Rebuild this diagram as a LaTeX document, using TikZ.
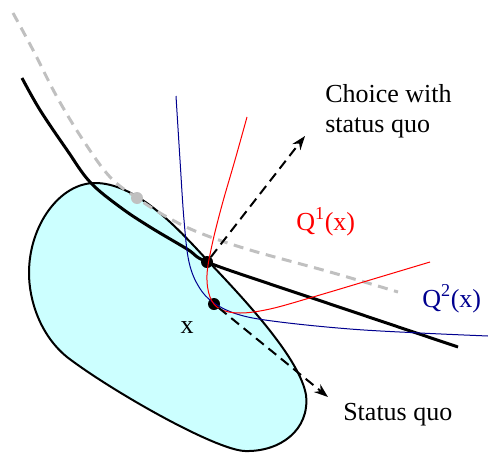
\documentclass[tikz,border=0pt]{standalone}
\usepackage{fontspec}
\setmainfont{Liberation Serif}
\usetikzlibrary{arrows.meta}
\definecolor{cblack}{HTML}{000000}
\definecolor{cgrey}{HTML}{C0C0C0}
\definecolor{ccyan}{HTML}{CCFFFF}
\definecolor{cred}{HTML}{FF0000}
\definecolor{cnavy}{HTML}{00008F}
\tikzset{
  every picture/.style={line join=round},
  budget/.style={draw=cblack, fill=ccyan, line width=1.5pt},
  indiff/.style={draw=cblack, line width=2.25pt},
  oldindiff/.style={draw=cgrey, line width=2.25pt, dash pattern=on 7.5pt off 5pt},
  quad/.style={draw=#1, line width=0.75pt},
  dot/.style={circle, fill=#1, inner sep=0pt, minimum size=9pt},
  dot/.default=cblack,
  arrow/.style={-{Stealth[length=10.5pt, width=7.5pt]}, draw=cblack, line width=1.5pt, dash pattern=on 7.5pt off 4.5pt},
  label/.style={font=\fontsize{19.5}{22.5}\selectfont, inner sep=0pt, align=left},
}
\begin{document}
\begin{tikzpicture}[x=0.75pt, y=-0.75pt]
  \useasboundingbox (0,0) rectangle (488,453);
  % feasible set
  \draw[budget] (95,183) .. controls (135,183) and (175,225) .. (207,260)
    .. controls (250,305) and (300,360) .. (306,395)
    .. controls (310,430) and (280,452) .. (245,451)
    .. controls (215,450) and (110,390) .. (67,357)
    .. controls (40,335) and (29,300) .. (29,273)
    .. controls (29,225) and (60,183) .. cycle;
  % indifference curves
  \draw[oldindiff] plot[smooth, tension=0.6] coordinates {(13,13) (33,50) (57,97) (83,140) (110,177) (137,198) (167,217) (200,233) (250,250) (330,272) (398,292)};
  \draw[indiff] plot[smooth, tension=0.6] coordinates {(22,78) (40,110) (67,150) (90,182) (120,207) (150,227) (187,249) (207,262) (270,284) (330,304) (458,347)};
  \node[label] (x) at (187,333) [anchor=base] {x};
  % chosen points
  \node[dot=cgrey] (old) at (137,198) {};
  \node[dot] (choice) at (207,262) {};
  \node[dot] (sq) at (214,304) {};
  \draw[quad=cnavy] plot[smooth, tension=0.6] coordinates {(176,96) (180,160) (184,220) (189,262) (199,287) (214,303) (240,315) (280,322) (350,329) (420,333) (488,336)};
  \draw[quad=cred] plot[smooth, tension=0.6] coordinates {(247,117) (235,160) (222,205) (212,245) (207,275) (210,297) (220,309) (240,313) (270,309) (313,297) (370,280) (430,262)};
  % directions
  \coordinate (choicetip) at (305,136);
  \coordinate (sqtip) at (328,397);
  \draw[arrow] (choice) -- (choicetip);
  \draw[arrow] (sq) -- (sqtip);
  % labels
  \node[label, anchor=base west] (choicetext) at (325,132) {Choice with\\status quo};
  \node[label, anchor=base west, text=cred] (q1) at (296,230) {Q\textsuperscript{1}(x)};
  \node[label, anchor=base west, text=cnavy] (q2) at (422,307) {Q\textsuperscript{2}(x)};
  \node[label, anchor=base west] (sqtext) at (343,420) {Status quo};
\end{tikzpicture}
\end{document}
